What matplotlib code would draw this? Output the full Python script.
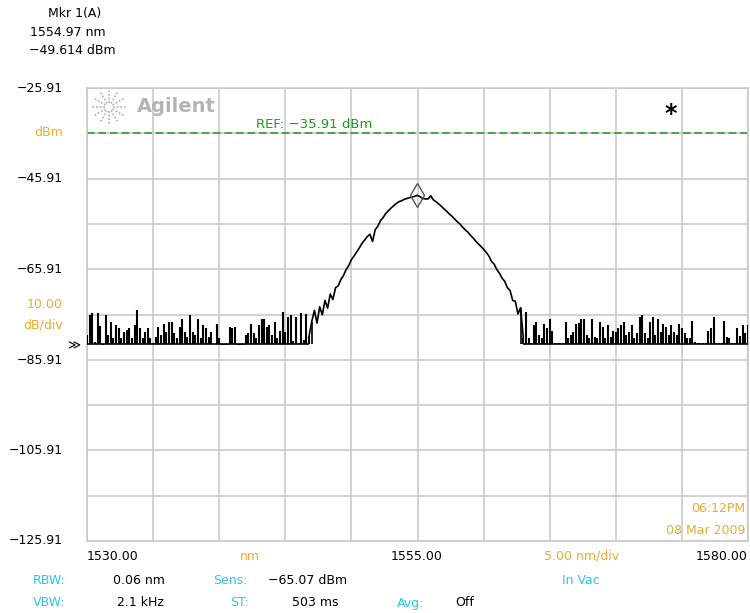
import numpy as np
import matplotlib
matplotlib.use('Agg')
import matplotlib.pyplot as plt
from matplotlib.lines import Line2D

# trace samples, 0.2 nm apart, starting at 1530.00 nm (values in dBm)
start_nm = 1530.0
step_nm = 0.2
noise_floor_dbm = -82.5

floor_left_dbm = [
    -80.4, -76.0, -75.6, -82.0, -75.6, -78.5, -82.6, -76.0, -80.5, -77.5,
    -81.2, -78.3, -79.0, -81.2, -79.7, -79.4, -79.0, -81.2, -78.2, -74.9,
    -79.0, -81.2, -79.7, -79.0, -81.2, -82.2, -80.8, -78.6, -80.4, -77.9,
    -79.7, -77.5, -77.5, -80.0, -81.2, -78.6, -77.0, -79.7, -80.8, -76.0,
    -79.7, -80.4, -77.0,
    -81.0, -78.2, -79.0, -80.8, -79.7, -82.4, -78.0, -81.2, -82.6, -82.6,
    -82.6, -78.6, -79.0, -78.6, -82.6, -82.6, -82.6, -80.4, -80.0, -77.9,
    -80.0, -81.2, -78.2, -77.0, -76.8, -78.6, -78.2, -80.4, -77.5, -81.2,
    -79.5, -75.3, -79.7, -76.4, -76.0, -81.8, -76.4, -82.2, -75.6, -81.5,
    -75.8, -80.6,
]

peak_dbm = [
    -77.5, -75.0, -77.8, -74.2, -76.0, -72.8, -74.5, -71.4, -72.6, -70.0,
    -69.6, -68.2, -67.3, -66.0, -65.1, -63.8, -63.0, -62.1, -61.2, -60.2,
    -59.5, -58.7, -58.2, -59.8, -57.2, -56.4, -55.2, -54.5, -53.6, -53.0,
    -52.4, -51.9, -51.4, -51.0, -50.8, -50.5, -50.3, -50.1, -50.0, -49.8,
    -49.6, -49.9, -50.3, -50.4, -50.4, -49.7, -50.6, -51.0, -51.5, -52.0,
    -52.6, -53.1, -53.7, -54.2, -54.8, -55.4, -55.9, -56.6, -57.2, -57.7,
    -58.4, -59.0, -59.7, -60.3, -60.9, -61.5, -62.2, -63.0, -64.2, -64.8,
    -66.0, -66.8, -67.9, -68.6, -70.0, -70.6, -72.8, -73.0, -75.8, -74.4,
]

floor_right_dbm = [
    -81.0, -75.3, -81.2, -82.3, -78.2, -77.5, -80.4, -81.2, -78.0, -79.0,
    -77.0, -79.5, -82.3, -82.3, -82.3, -82.3, -77.5, -81.0, -80.4, -79.7,
    -78.0, -77.8, -76.8, -77.0, -80.4, -81.2, -76.8, -80.8, -81.2, -77.5,
    -78.6, -81.2, -78.2, -80.8, -79.5, -79.7, -79.0, -78.2, -77.5, -80.4,
    -79.7,
    -78.2, -81.2, -80.0, -76.5, -76.0, -80.0, -81.0, -77.5, -76.4, -80.4,
    -76.8, -79.7, -78.0, -78.6, -80.4, -78.2, -79.7, -80.4, -77.9, -79.0,
    -80.0, -81.2, -81.2, -77.3, -82.0, -82.3, -82.3, -82.3, -82.3, -79.5,
    -79.0, -76.4, -82.3, -82.3, -82.3, -77.3, -80.8, -81.2, -82.3, -82.3,
    -79.0, -80.6, -78.2, -80.0, -78.2,
]

marker_nm = 1554.97
marker_dbm = -49.614
ref_dbm = -35.91
x_start, x_stop, x_div = 1530.0, 1580.0, 5.0
y_top, y_div = -25.91, 10.0

W, H = 750, 613
ORANGE = '#eeaa2c'
CYAN = '#2ec4ee'
GRID = '#c6c6c6'


def ftext(px, py, s, color='black', ha='left', size=9, **kw):
    fig.text(px / W, 1 - py / H, s, color=color, ha=ha, va='center',
             fontsize=size, **kw)


trace = np.array(floor_left_dbm + peak_dbm + floor_right_dbm)
wl = start_nm + step_nm * np.arange(len(trace))
i_peak0 = len(floor_left_dbm)
i_peak1 = i_peak0 + len(peak_dbm)

fig = plt.figure(figsize=(7.5, 6.13), dpi=100)
ax = fig.add_axes([87 / W, 1 - 541 / H, 661 / W, 453 / H])
ax.set_axisbelow(True)

# noise floor regions drawn as min/max columns, the peak as a line
tr = dict(color='black', lw=1.2, zorder=3)
for sl in (slice(0, i_peak0), slice(i_peak1, len(trace))):
    ax.vlines(wl[sl], noise_floor_dbm, trace[sl], color='black', lw=1.5,
              zorder=3)
    ax.hlines(noise_floor_dbm, wl[sl][0], wl[sl][-1], **tr)
ax.plot(wl[i_peak0 - 1:i_peak1 + 1], trace[i_peak0 - 1:i_peak1 + 1], **tr)
ax.vlines([wl[i_peak0]], noise_floor_dbm, trace[i_peak0], **tr)
ax.vlines([wl[i_peak1 - 1]], noise_floor_dbm, trace[i_peak1 - 1], **tr)

ax.plot([marker_nm], [marker_dbm], marker='d', ms=12, mfc='none',
        mec='#555555', mew=1.0, zorder=4)
ax.axhline(ref_dbm, color='#229922', lw=1.1, dashes=(5, 2.5), zorder=2)

y_bottom = y_top - 10 * y_div
ax.set_xlim(x_start, x_stop)
ax.set_ylim(y_bottom, y_top)
ax.set_xticks(np.arange(x_start, x_stop + 0.1, x_div))
ax.set_yticks(y_bottom + y_div * np.arange(11))
ax.grid(color=GRID, lw=1.1)
ax.tick_params(length=0, labelbottom=False, labelleft=False)
for s in ax.spines.values():
    s.set_color(GRID)
    s.set_linewidth(1.1)

# marker readout
ftext(48, 14, 'Mkr 1(A)')
ftext(30, 32, '1554.97 nm')
ftext(29, 50, '\u221249.614 dBm')

# left scale
ftext(63, 88, '\u221225.91', ha='right')
ftext(63, 132, 'dBm', color=ORANGE, ha='right')
ftext(63, 178, '\u221245.91', ha='right')
ftext(63, 269, '\u221265.91', ha='right')
ftext(63, 305, '10.00', color=ORANGE, ha='right')
ftext(63, 325, 'dB/div', color=ORANGE, ha='right')
ftext(63, 360, '\u221285.91', ha='right')
ftext(63, 450, '\u2212105.91', ha='right')
ftext(63, 541, '\u2212125.91', ha='right')
ftext(67, 346, '\u226b', size=9)

# bottom scale
ftext(87, 556, '1530.00')
ftext(250, 556, 'nm', color=ORANGE, ha='center')
ftext(417, 556, '1555.00', ha='center')
ftext(582, 556, '5.00 nm/div', color=ORANGE, ha='center')
ftext(748, 556, '1580.00', ha='right')

ftext(33, 581, 'RBW:', color=CYAN)
ftext(113, 581, '0.06 nm')
ftext(213, 581, 'Sens:', color=CYAN)
ftext(268, 581, '\u221265.07 dBm')
ftext(581, 581, 'In Vac', color=CYAN, ha='center')
ftext(33, 603, 'VBW:', color=CYAN)
ftext(117, 603, '2.1 kHz')
ftext(230, 603, 'ST:', color=CYAN)
ftext(292, 603, '503 ms')
ftext(397, 603, 'Avg:', color=CYAN)
ftext(455, 603, 'Off')

ftext(745, 508, '06:12PM', color=ORANGE, ha='right')
ftext(745, 530, '08 Mar 2009', color=ORANGE, ha='right')

# REF label and the star
ftext(256, 124, 'REF: \u221235.91 dBm', color='#229922', size=9.5)
ftext(671, 114, '*', size=17, fontweight='bold', ha='center')

# Agilent logo
ftext(137, 107, 'Agilent', color='#b4b4b4', size=14, fontweight='bold')
cx, cy = 109, 107
for ang in np.deg2rad(np.arange(0, 360, 30)):
    r0, r1 = 4, 17
    xs = [(cx + r0 * np.cos(ang)) / W, (cx + r1 * np.cos(ang)) / W]
    ys = [1 - (cy + r0 * np.sin(ang)) / H, 1 - (cy + r1 * np.sin(ang)) / H]
    fig.add_artist(Line2D(xs, ys, color='#b8b8b8', lw=1.3, ls=(0, (1, 1)),
                          transform=fig.transFigure))

fig.savefig('out.png', dpi=100)
